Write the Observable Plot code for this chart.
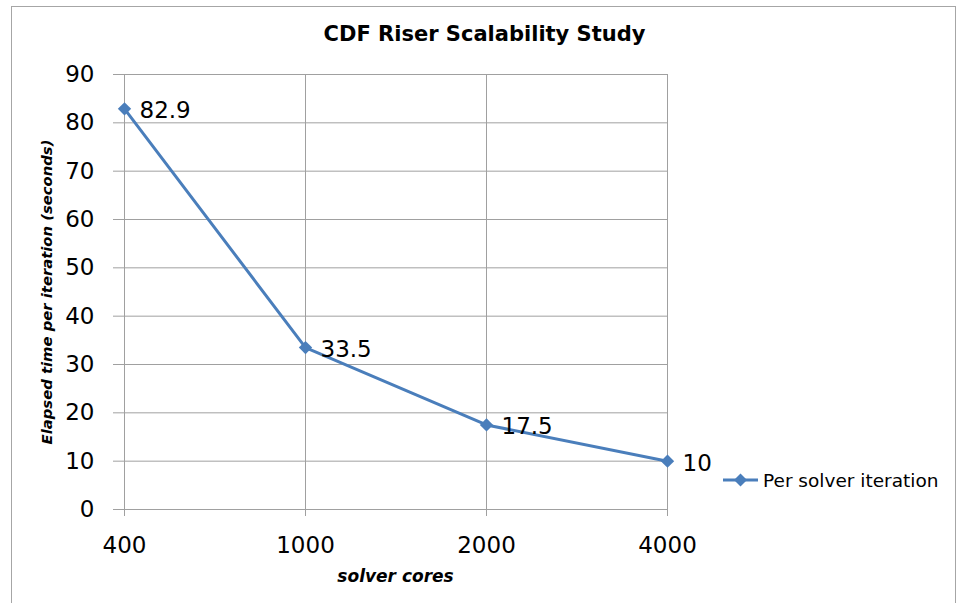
<!DOCTYPE html>
<html>
<head>
<meta charset="utf-8">
<script src="https://cdn.jsdelivr.net/npm/d3@7"></script>
<script src="https://cdn.jsdelivr.net/npm/@observablehq/plot@0.6"></script>
<style>
  html, body { margin: 0; padding: 0; background: #fff; overflow: hidden; }
  #wrap { position: relative; width: 959px; height: 603px; overflow: hidden; font-family: "DejaVu Sans", sans-serif; }
  #border { position: absolute; left: 11px; top: 6px; width: 943px; height: 640px; border: 1px solid #a6a6a6; pointer-events: none; }
  #chart { position: absolute; left: 0; top: 0; }
  #legend { position: absolute; left: 723px; top: 469px; display: flex; align-items: center; font-size: 18.5px; color: #000; }
  #legend span { margin-left: 5px; }
</style>
</head>
<body>
<div id="wrap">
  <div id="border"></div>
  <div id="chart"></div>
  <div id="legend">
    <svg width="35" height="22"><line x1="0" y1="11" x2="35" y2="11" stroke="#4A7EBB" stroke-width="3"/><path d="M17.5,4.5L24,11L17.5,17.5L11,11Z" fill="#4A7EBB"/></svg>
    <span id="legendText"></span>
  </div>
</div>
<script>
const title = "CDF Riser Scalability Study";
const xTitle = "solver cores";
const yTitle = "Elapsed time per iteration (seconds)";
const seriesName = "Per solver iteration";
const cores = ["400", "1000", "2000", "4000"];
const elapsed = [82.9, 33.5, 17.5, 10];
const yTicks = [0, 10, 20, 30, 40, 50, 60, 70, 80, 90];

const data = cores.map((c, i) => ({cores: c, value: elapsed[i]}));
const color = "#4A7EBB";
const grid = "#a0a0a0";

document.getElementById("legendText").textContent = seriesName;

const chart = Plot.plot({
  width: 959,
  height: 603,
  marginLeft: 123,
  marginRight: 292,
  marginTop: 74,
  marginBottom: 94,
  style: {fontFamily: "'DejaVu Sans', sans-serif", background: "transparent", color: "#000"},
  x: {type: "point", domain: cores, padding: 0},
  y: {domain: [0, 90]},
  marks: [
    Plot.gridY(yTicks, {stroke: grid, strokeOpacity: 1, strokeWidth: 1}),
    Plot.gridX(cores, {stroke: grid, strokeOpacity: 1, strokeWidth: 1}),
    Plot.axisY(yTicks, {tickSize: 10, tickPadding: 19, stroke: grid, strokeOpacity: 1, fill: "#000", fontSize: 23, label: null}),
    Plot.axisX(cores, {tickSize: 7, tickPadding: 20, stroke: grid, strokeOpacity: 1, fill: "#000", fontSize: 23, label: null}),
    Plot.line(data, {x: "cores", y: "value", stroke: color, strokeWidth: 3}),
    Plot.dot(data, {x: "cores", y: "value", symbol: "diamond2", r: 6, fill: color, stroke: null}),
    Plot.text(data, {x: "cores", y: "value", text: d => String(d.value), textAnchor: "start", dx: 15, dy: 2, fontSize: 23, fill: "#000"}),
    Plot.text([title], {frameAnchor: "top", textAnchor: "middle", lineAnchor: "middle", dx: 89, dy: -40, fontSize: 21, fontWeight: "bold", fill: "#000"}),
    Plot.text([xTitle], {frameAnchor: "bottom", textAnchor: "middle", lineAnchor: "middle", dy: 67, fontSize: 17, fontWeight: "bold", fontStyle: "italic", fill: "#000"}),
    Plot.text([yTitle], {frameAnchor: "left", textAnchor: "middle", lineAnchor: "middle", dx: -76, rotate: -90, fontSize: 14.8, fontWeight: "bold", fontStyle: "italic", fill: "#000"})
  ]
});
document.getElementById("chart").appendChild(chart);
</script>
</body>
</html>
